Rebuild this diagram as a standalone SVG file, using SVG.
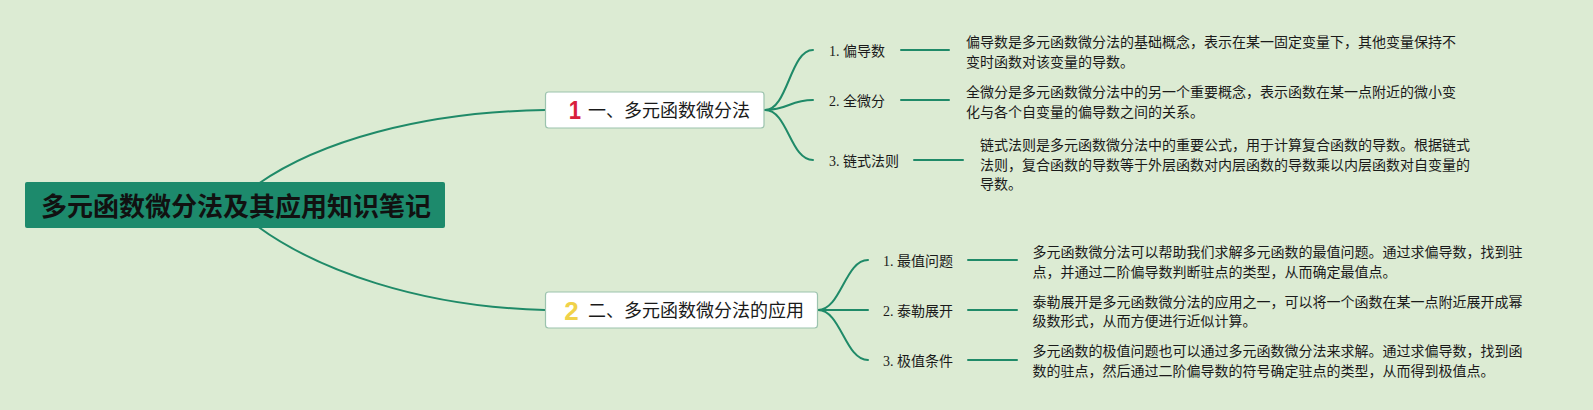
<svg xmlns="http://www.w3.org/2000/svg" width="1593" height="410" viewBox="0 0 1593 410">
<style>
.bg{fill:#dcebd3}
.conn{fill:none;stroke:#1f8a68;stroke-width:2;stroke-linecap:round}
.root-box{fill:#1d8a6c}
.root-text{font-family:"Noto Sans CJK SC","Noto Sans",sans-serif;font-weight:bold;font-size:26px;fill:#111}
.br-box{fill:#ffffff;stroke:#9cc3ae;stroke-width:1.2}
.br-text{font-family:"Liberation Serif","Noto Sans CJK SC",serif;font-size:18px;fill:#1a1a1a}
.num{font-family:"Liberation Sans",sans-serif;font-weight:bold;font-size:26px}
.lbl{font-family:"Liberation Serif","Noto Sans CJK SC",serif;font-size:14px;fill:#1a1a1a}
.desc{font-family:"Liberation Serif","Noto Sans CJK SC",serif;font-size:14px;fill:#1a1a1a}
</style>
<rect class="bg" x="0" y="0" width="1593" height="410"/>
<g id="connectors">
<path class="conn" d="M258 184 C318 142 420 112 545 110"/>
<path class="conn" d="M257 226 C317 270 420 307 545 310"/>
<path class="conn" d="M765 110 C788 110 790 50 813 50"/>
<path class="conn" d="M765 110 C788 110 790 100 813 100"/>
<path class="conn" d="M765 110 C788 110 790 160 813 160"/>
<path class="conn" d="M818 310 C841 310 845 260 868 260"/>
<path class="conn" d="M818 310 L868 310"/>
<path class="conn" d="M818 310 C841 310 845 360 868 360"/>
<path class="conn" d="M901 50 H949"/>
<path class="conn" d="M901 100 H949"/>
<path class="conn" d="M914 160 H963"/>
<path class="conn" d="M968 260 H1017"/>
<path class="conn" d="M968 310 H1017"/>
<path class="conn" d="M968 360 H1017"/>
</g>
<g id="root">
<rect class="root-box" x="25" y="182" width="420" height="46" rx="2"/>
<text class="root-text" x="236" y="216" text-anchor="middle">多元函数微分法及其应用知识笔记</text>
</g>
<g id="branch1">
<rect class="br-box" x="545.5" y="92" width="218.5" height="36" rx="3"/>
<text class="num" x="575" y="119.5" text-anchor="middle" fill="#d8203c" transform="translate(575 0) scale(0.85 1) translate(-575 0)">1</text>
<text class="br-text" x="588" y="116.8">一、多元函数微分法</text>
</g>
<g id="branch2">
<rect class="br-box" x="545.5" y="292" width="272" height="36" rx="3"/>
<text class="num" x="571.5" y="319.5" text-anchor="middle" fill="#f0d24a">2</text>
<text class="br-text" x="588" y="316.8">二、多元函数微分法的应用</text>
</g>
<g id="b1-item1">
<text class="lbl" x="829" y="55.5">1. 偏导数</text>
<text class="desc" x="966" y="47">偏导数是多元函数微分法的基础概念，表示在某一固定变量下，其他变量保持不</text>
<text class="desc" x="966" y="67">变时函数对该变量的导数。</text>
</g>
<g id="b1-item2">
<text class="lbl" x="829" y="105.5">2. 全微分</text>
<text class="desc" x="966" y="97">全微分是多元函数微分法中的另一个重要概念，表示函数在某一点附近的微小变</text>
<text class="desc" x="966" y="117">化与各个自变量的偏导数之间的关系。</text>
</g>
<g id="b1-item3">
<text class="lbl" x="829" y="165.5">3. 链式法则</text>
<text class="desc" x="980" y="150.3">链式法则是多元函数微分法中的重要公式，用于计算复合函数的导数。根据链式</text>
<text class="desc" x="980" y="170">法则，复合函数的导数等于外层函数对内层函数的导数乘以内层函数对自变量的</text>
<text class="desc" x="980" y="189">导数。</text>
</g>
<g id="b2-item1">
<text class="lbl" x="883" y="265.5">1. 最值问题</text>
<text class="desc" x="1032.5" y="257">多元函数微分法可以帮助我们求解多元函数的最值问题。通过求偏导数，找到驻</text>
<text class="desc" x="1032.5" y="277">点，并通过二阶偏导数判断驻点的类型，从而确定最值点。</text>
</g>
<g id="b2-item2">
<text class="lbl" x="883" y="315.5">2. 泰勒展开</text>
<text class="desc" x="1032.5" y="307">泰勒展开是多元函数微分法的应用之一，可以将一个函数在某一点附近展开成幂</text>
<text class="desc" x="1032.5" y="326">级数形式，从而方便进行近似计算。</text>
</g>
<g id="b2-item3">
<text class="lbl" x="883" y="365.5">3. 极值条件</text>
<text class="desc" x="1032.5" y="355.5">多元函数的极值问题也可以通过多元函数微分法来求解。通过求偏导数，找到函</text>
<text class="desc" x="1032.5" y="375.5">数的驻点，然后通过二阶偏导数的符号确定驻点的类型，从而得到极值点。</text>
</g>
</svg>
